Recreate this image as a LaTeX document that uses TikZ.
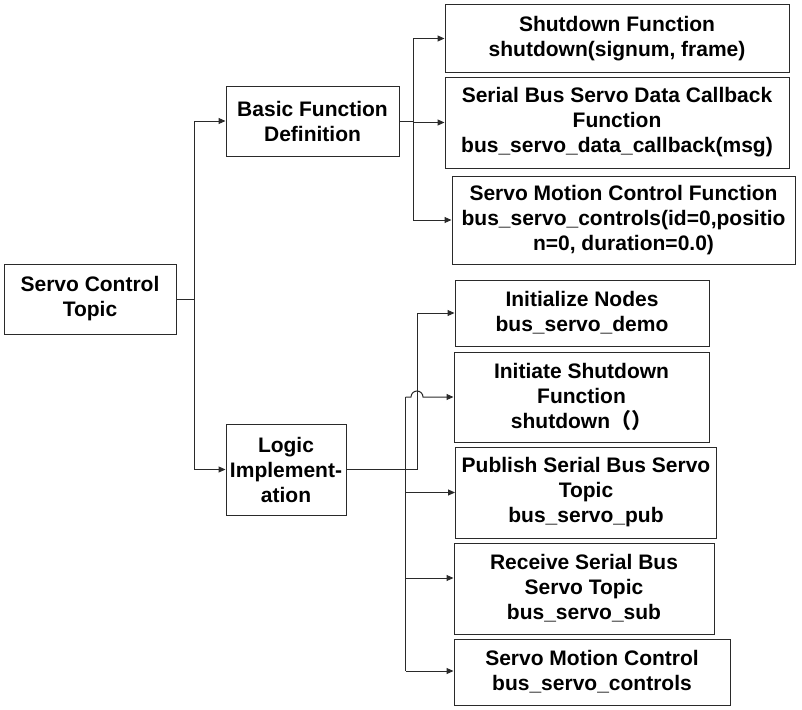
\documentclass[tikz,border=0pt]{standalone}
\usepackage{fontspec}
\setmainfont{Liberation Sans}
\newfontfamily\cjkfont{Noto Sans CJK SC}
\usetikzlibrary{arrows.meta}
\definecolor{edge}{HTML}{2A2A2A}
\tikzset{
  box/.style={draw=edge, line width=1pt, inner sep=0pt, align=center,
    font=\fontsize{21}{25}\selectfont\bfseries, text=black},
  link/.style={draw=edge, line width=1pt},
  arr/.style={link, -{Triangle[length=7pt,width=6pt]}},
}
\begin{document}
\begin{tikzpicture}[x=1pt,y=-1pt]
\useasboundingbox (0,0) rectangle (802,709);
% nodes
\node[box, minimum width=172pt, minimum height=70pt] (topic) at (90,299) {Servo Control\\Topic};
\node[box, minimum width=173pt, minimum height=70pt] (basic) at (312.5,121) {Basic Function\\Definition};
\node[box, minimum width=120pt, minimum height=91pt] (logic) at (286,469.5) {Logic\\Implement-\\ation};
\node[box, minimum width=344pt, minimum height=67pt] (shut) at (617,38.5) {Shutdown Function\\shutdown(signum, frame)};
\node[box, minimum width=344pt, minimum height=91pt] (cb) at (617,122.5) {Serial Bus Servo Data Callback\\Function\\bus\_servo\_data\_callback(msg)};
\node[box, minimum width=343pt, minimum height=88pt] (smcf) at (623.5,220) {Servo Motion Control Function\\bus\_servo\_controls(id=0,positio\\n=0, duration=0.0)};
\node[box, minimum width=254pt, minimum height=66pt] (init) at (582,313) {Initialize Nodes\\bus\_servo\_demo};
\node[box, minimum width=255pt, minimum height=90pt] (ishut) at (581.5,397) {Initiate Shutdown\\Function\\shutdown{\cjkfont （）}};
\node[box, minimum width=261pt, minimum height=91pt] (pub) at (586,492.5) {Publish Serial Bus Servo\\Topic\\bus\_servo\_pub};
\node[box, minimum width=260pt, minimum height=91pt] (sub) at (584,588.5) {Receive Serial Bus\\Servo Topic\\bus\_servo\_sub};
\node[box, minimum width=276pt, minimum height=66pt] (smc) at (592,672) {Servo Motion Control\\bus\_servo\_controls};
% trunk positions
\coordinate (t1) at (194.5,0);
\coordinate (t2) at (413,0);
\coordinate (t3) at (417,0);
\coordinate (t4) at (405.5,0);
\coordinate (subin) at (0,578);
\coordinate (smcin) at (0,671);
% root tree
\draw[link] (topic.east) -- (topic.east -| t1);
\draw[link] (basic.west -| t1) -- (logic.west -| t1);
\draw[arr] (basic.west -| t1) -- (basic.west);
\draw[arr] (logic.west -| t1) -- (logic.west);
% basic tree
\draw[link] (basic.east) -- (basic.east -| t2);
\draw[link] (shut.west -| t2) -- (smcf.west -| t2);
\draw[arr] (shut.west -| t2) -- (shut.west);
\draw[arr] (cb.west -| t2) -- (cb.west);
\draw[arr] (smcf.west -| t2) -- (smcf.west);
% logic tree
\draw[arr] (logic.east) -- (logic.east -| t3) -- (init.west -| t3) -- (init.west);
\draw[link] (ishut.west -| t4) -- (smcin -| t4);
\draw[arr] (ishut.west -| t4) -- ++(5.5,0) arc[start angle=180,end angle=0,radius=6pt] -- (ishut.west);
\draw[arr] (pub.west -| t4) -- (pub.west);
\draw[arr] (subin -| t4) -- (subin -| sub.west);
\draw[arr] (smcin -| t4) -- (smcin -| smc.west);
\end{tikzpicture}
\end{document}
